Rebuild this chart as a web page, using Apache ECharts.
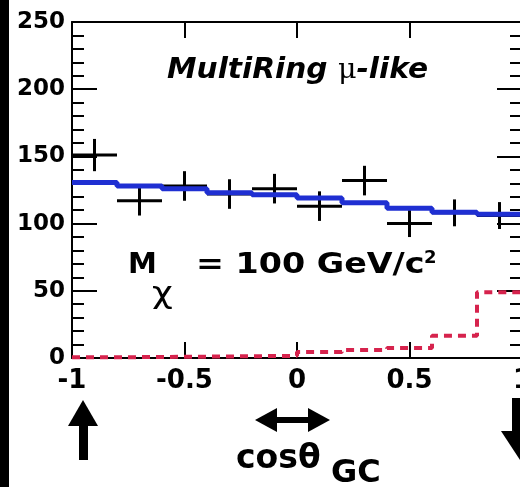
<!DOCTYPE html>
<html>
<head>
<meta charset="utf-8">
<script src="https://cdn.jsdelivr.net/npm/echarts@6/dist/echarts.min.js"></script>
<style>
  html, body { margin: 0; padding: 0; background: #ffffff; }
  #chart { width: 520px; height: 487px; }
</style>
</head>
<body>
<div id="chart"></div>
<script>
// Histogram binning in cos(theta_GC)
const binEdges = [-1, -0.8, -0.6, -0.4, -0.2, 0, 0.2, 0.4, 0.6, 0.8, 1];
// Observed events per bin and their statistical errors
const dataCounts = [151, 117, 128, 122, 126, 113, 132, 100, 108, 106];
const dataErrors = [12, 11, 11, 11, 11, 11, 11, 10, 10, 10];
// Atmospheric neutrino background expectation (solid blue)
const mcBackground = [130.5, 128, 126, 123, 121.5, 119, 115.5, 111.5, 108.5, 107];
// WIMP annihilation signal expectation (dotted red)
const wimpSignal = [0.5, 0.8, 1.0, 1.3, 1.6, 4.5, 6, 7.5, 16.5, 49];
// Axis ranges and label steps
const xRange = [-1, 1];
const xStep = 0.5;
const yRange = [0, 250];
const yStep = 50;

const FONT = '"DejaVu Sans", "Liberation Sans", sans-serif';

// Staircase outline: one point per left bin edge plus the final right edge
function stepPoints(values) {
  const pts = values.map((v, i) => [binEdges[i], v]);
  pts.push([binEdges[binEdges.length - 1], values[values.length - 1]]);
  return pts;
}

const crossData = dataCounts.map((c, i) => [
  (binEdges[i] + binEdges[i + 1]) / 2, c, dataErrors[i], (binEdges[i + 1] - binEdges[i]) / 2
]);

const chart = echarts.init(document.getElementById('chart'), null, { renderer: 'canvas' });

const axisLineStyle = { color: '#000', width: 2 };
const xAxisBase = {
  type: 'value', min: xRange[0], max: xRange[1], interval: xStep,
  axisLine: { show: true, onZero: false, lineStyle: axisLineStyle },
  axisTick: { show: true, inside: true, length: 16, lineStyle: { color: '#000', width: 2 } },
  splitLine: { show: false }
};
const yAxisBase = {
  type: 'value', min: yRange[0], max: yRange[1], interval: yStep,
  axisLine: { show: true, onZero: false, lineStyle: axisLineStyle },
  axisTick: { show: true, inside: true, length: 25, lineStyle: { color: '#000', width: 2 } },
  minorTick: { show: true, splitNumber: 5, length: 12, lineStyle: { color: '#000', width: 2 } },
  splitLine: { show: false }
};

chart.setOption({
  animation: false,
  backgroundColor: '#ffffff',
  grid: { left: 72, top: 22, width: 450, bottom: 129, containLabel: false, outerBoundsMode: 'none' },
  xAxis: [
    Object.assign({}, xAxisBase, {
      position: 'bottom',
      axisLabel: {
        show: true, margin: 10, color: '#000', fontFamily: FONT, fontWeight: 'bold', fontSize: 26,
        formatter: v => String(v)
      }
    }),
    Object.assign({}, xAxisBase, { position: 'top', axisLabel: { show: false } })
  ],
  yAxis: [
    Object.assign({}, yAxisBase, {
      position: 'left',
      axisLabel: { show: true, margin: 7, color: '#000', fontFamily: FONT, fontWeight: 'bold', fontSize: 23 }
    }),
    Object.assign({}, yAxisBase, { position: 'right', axisLabel: { show: false } })
  ],
  series: [
    {
      name: 'data',
      type: 'custom',
      xAxisIndex: 0, yAxisIndex: 0,
      data: crossData,
      z: 2,
      renderItem: function (params, api) {
        const xc = api.value(0), y = api.value(1), e = api.value(2), hw = api.value(3);
        const l = api.coord([xc - hw, y]);
        const r = api.coord([xc + hw, y]);
        const t = api.coord([xc, y + e]);
        const b = api.coord([xc, y - e]);
        const st = { stroke: '#000', lineWidth: 3 };
        return {
          type: 'group',
          children: [
            { type: 'line', shape: { x1: l[0], y1: l[1], x2: r[0], y2: r[1] }, style: st },
            { type: 'line', shape: { x1: t[0], y1: t[1], x2: b[0], y2: b[1] }, style: st }
          ]
        };
      }
    },
    {
      name: 'background',
      type: 'line',
      step: 'end',
      data: stepPoints(mcBackground),
      symbol: 'none',
      z: 3,
      lineStyle: { color: '#1f2fd2', width: 5 }
    },
    {
      name: 'signal',
      type: 'line',
      step: 'end',
      data: stepPoints(wimpSignal),
      symbol: 'none',
      z: 4,
      lineStyle: { color: '#d6234d', width: 4, type: [8, 6] }
    }
  ],
  graphic: [
    // dark strip along the left edge
    { type: 'rect', shape: { x: 0, y: 0, width: 9, height: 487 }, style: { fill: '#000' }, z: 10 },
    {
      type: 'text', x: 167, y: 57, z: 10, scaleX: 1.06,
      style: {
        text: '{a|MultiRing }{m|μ}{a|-like}',
        verticalAlign: 'top',
        rich: {
          a: { fontFamily: FONT, fontWeight: 'bold', fontStyle: 'italic', fontSize: 28, fill: '#000' },
          m: { fontFamily: '"DejaVu Serif", serif', fontSize: 27, fill: '#000' }
        }
      }
    },
    { type: 'text', x: 128, y: 251, z: 10,
      style: { text: 'M', verticalAlign: 'top', fontFamily: FONT, fontWeight: 'bold', fontSize: 29, fill: '#000' } },
    { type: 'text', x: 152, y: 280, z: 10, scaleX: 1.2,
      style: { text: 'χ', verticalAlign: 'top', fontFamily: FONT, fontSize: 30, fill: '#000' } },
    { type: 'text', x: 196, y: 251, z: 10, scaleX: 1.15,
      style: { text: '= 100 GeV/c', verticalAlign: 'top', fontFamily: FONT, fontWeight: 'bold', fontSize: 29, fill: '#000' } },
    { type: 'text', x: 424, y: 249, z: 10,
      style: { text: '2', verticalAlign: 'top', fontFamily: FONT, fontWeight: 'bold', fontSize: 18, fill: '#000' } },
    // axis title
    { type: 'text', x: 236, y: 443, z: 10,
      style: { text: 'cosθ', verticalAlign: 'top', fontFamily: FONT, fontWeight: 'bold', fontSize: 33, fill: '#000' } },
    { type: 'text', x: 331, y: 458, z: 10,
      style: { text: 'GC', verticalAlign: 'top', fontFamily: FONT, fontWeight: 'bold', fontSize: 32, fill: '#000' } },
    // direction arrows under the axis
    { type: 'polygon', z: 10, shape: { points: [[83, 400], [98, 426], [68, 426]] }, style: { fill: '#000' } },
    { type: 'rect', z: 10, shape: { x: 79, y: 425, width: 9, height: 35 }, style: { fill: '#000' } },
    { type: 'polygon', z: 10, shape: { points: [[255, 420], [277, 408], [277, 432]] }, style: { fill: '#000' } },
    { type: 'polygon', z: 10, shape: { points: [[330, 420], [308, 408], [308, 432]] }, style: { fill: '#000' } },
    { type: 'rect', z: 10, shape: { x: 276, y: 417, width: 33, height: 6 }, style: { fill: '#000' } },
    { type: 'rect', z: 10, shape: { x: 512, y: 398, width: 20, height: 34 }, style: { fill: '#000' } },
    { type: 'polygon', z: 10, shape: { points: [[501, 431], [544, 431], [522, 463]] }, style: { fill: '#000' } }
  ]
});
</script>
</body>
</html>
